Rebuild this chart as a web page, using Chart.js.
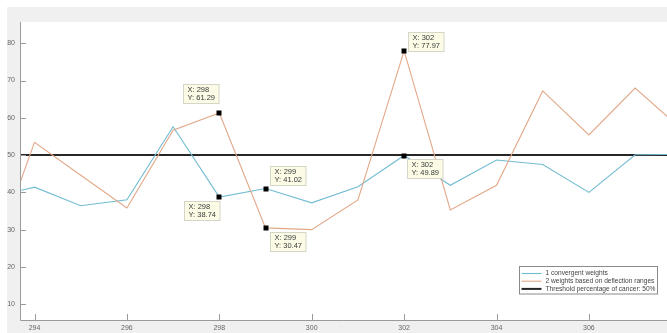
<!DOCTYPE html>
<html>
<head>
<meta charset="utf-8">
<script src="https://cdn.jsdelivr.net/npm/chart.js@4.4.1/dist/chart.umd.min.js"></script>
<style>
  html, body { margin: 0; padding: 0; background: #ffffff; }
  #wrap { width: 667px; height: 333px; position: relative; }
</style>
</head>
<body>
<div id="wrap"><canvas id="chart" width="667" height="333"></canvas></div>
<script>
// Sample index along the x axis
const xValues = [293, 294, 295, 296, 297, 298, 299, 300, 301, 302, 303, 304, 305, 306, 307, 308];

// Cancer percentage computed with convergent weights
const convergentWeights = [38.5, 41.4, 36.4, 38.0, 57.6, 38.74, 41.02, 37.2, 41.5, 49.89, 41.9, 48.7, 47.5, 40.0, 50.1, 50.2];

// Cancer percentage computed with weights based on deflection ranges
const deflectionWeights = [19.0, 53.4, 44.6, 35.8, 56.7, 61.29, 30.47, 30.0, 38.0, 77.97, 35.3, 41.9, 67.2, 55.4, 68.0, 57.0];

// Decision threshold (percent)
const thresholdValue = 50;

const seriesLabels = [
  '1 convergent weights',
  '2 weights based on deflection ranges',
  'Threshold percentage of cancer: 50%'
];

const xTickValues = [294, 296, 298, 300, 302, 304, 306];
const yTickValues = [10, 20, 30, 40, 50, 60, 70, 80];

// Data tips: which series (dataset index) and which x value
const dataTips = [
  { dataset: 1, x: 298 },
  { dataset: 0, x: 298 },
  { dataset: 0, x: 299 },
  { dataset: 1, x: 299 },
  { dataset: 1, x: 302 },
  { dataset: 0, x: 302 }
];
// Where each tip's box sits relative to its marker (dx, dy of box top-left)
const tipPlacement = [
  { dx: -36, dy: -29 },
  { dx: -35, dy: 4 },
  { dx: 4, dy: -23 },
  { dx: 4, dy: 4 },
  { dx: 4, dy: -19 },
  { dx: 3, dy: 3 }
];

const FONT = '"Liberation Sans", Arial, Helvetica, sans-serif';
const BLUE = '#72bcd2';
const ORANGE = '#e2a888';
const AXIS = '#9a9a9a';

const toPoints = (ys) => xValues.map((x, i) => ({ x: x, y: ys[i] }));

// Figure background: white margin, light grey figure, white axes
const backgroundPlugin = {
  id: 'figureBackground',
  beforeDraw(chart) {
    const { ctx, chartArea: a, width, height } = chart;
    ctx.save();
    ctx.fillStyle = '#ffffff';
    ctx.fillRect(0, 0, width, height);
    ctx.fillStyle = '#f0f0f0';
    ctx.fillRect(7, 7, width - 7, height - 7);
    ctx.fillStyle = '#ffffff';
    ctx.fillRect(a.left, a.top, a.right - a.left, a.bottom - a.top);
    ctx.restore();
  }
};

// Inward tick marks and axis lines
const axisPlugin = {
  id: 'inwardTicks',
  afterDraw(chart) {
    const { ctx, chartArea: a, scales } = chart;
    ctx.save();
    ctx.strokeStyle = AXIS;
    ctx.lineWidth = 1;
    ctx.beginPath();
    ctx.moveTo(a.left + 0.5, a.top);
    ctx.lineTo(a.left + 0.5, a.bottom + 0.5);
    ctx.lineTo(a.right, a.bottom + 0.5);
    ctx.stroke();
    ctx.beginPath();
    yTickValues.forEach(v => {
      const y = Math.round(scales.y.getPixelForValue(v)) + 0.5;
      ctx.moveTo(a.left, y);
      ctx.lineTo(a.left + 6, y);
    });
    xTickValues.forEach(v => {
      const x = Math.round(scales.x.getPixelForValue(v)) + 0.5;
      ctx.moveTo(x, a.bottom);
      ctx.lineTo(x, a.bottom - 6);
    });
    ctx.stroke();
    ctx.restore();
  }
};

// Data tip markers and their labels
const dataTipPlugin = {
  id: 'dataTips',
  afterDatasetsDraw(chart) {
    const { ctx, scales } = chart;
    ctx.save();
    dataTips.forEach((tip, i) => {
      const ds = chart.data.datasets[tip.dataset];
      const pt = ds.data.find(p => p.x === tip.x);
      const px = scales.x.getPixelForValue(pt.x);
      const py = scales.y.getPixelForValue(pt.y);
      const place = tipPlacement[i];
      const bx = Math.round(px + place.dx) + 0.5;
      const by = Math.round(py + place.dy) + 0.5;
      const lines = ['X: ' + pt.x, 'Y: ' + pt.y.toFixed(2)];
      ctx.font = '7.5px ' + FONT;
      const w = Math.max(...lines.map(s => ctx.measureText(s).width)) + 8;
      const h = 19;
      ctx.fillStyle = '#fbfbe6';
      ctx.strokeStyle = '#d6d6c8';
      ctx.lineWidth = 1;
      ctx.fillRect(bx, by, w, h);
      ctx.strokeRect(bx, by, w, h);
      ctx.fillStyle = '#3a3a3a';
      ctx.textBaseline = 'middle';
      ctx.textAlign = 'left';
      ctx.fillText(lines[0], bx + 4, by + 5.5);
      ctx.fillText(lines[1], bx + 4, by + 13.5);
      ctx.fillStyle = '#000000';
      ctx.fillRect(Math.round(px) - 2.5, Math.round(py) - 2.5, 5, 5);
    });
    ctx.restore();
  }
};

// Legend box in the lower right of the axes
const legendPlugin = {
  id: 'boxLegend',
  afterDraw(chart) {
    const { ctx } = chart;
    const left = 519.5, top = 266.5, w = 138, h = 27.5;
    ctx.save();
    ctx.fillStyle = '#ffffff';
    ctx.fillRect(left, top, w, h);
    ctx.strokeStyle = '#8a8a8a';
    ctx.lineWidth = 1;
    ctx.strokeRect(left, top, w, h);
    ctx.font = '6.6px ' + FONT;
    ctx.textBaseline = 'middle';
    ctx.textAlign = 'left';
    chart.data.datasets.forEach((ds, i) => {
      const y = top + 7 + i * 7.7;
      ctx.strokeStyle = ds.borderColor;
      ctx.lineWidth = ds.borderWidth;
      ctx.beginPath();
      ctx.moveTo(left + 2, y);
      ctx.lineTo(left + 22, y);
      ctx.stroke();
      ctx.fillStyle = '#444444';
      ctx.fillText(ds.label, left + 26, y);
    });
    ctx.restore();
  }
};

new Chart(document.getElementById('chart'), {
  type: 'line',
  data: {
    datasets: [
      {
        label: seriesLabels[0],
        data: toPoints(convergentWeights),
        borderColor: BLUE,
        borderWidth: 1.1,
        pointRadius: 0,
        tension: 0,
        order: 1
      },
      {
        label: seriesLabels[1],
        data: toPoints(deflectionWeights),
        borderColor: ORANGE,
        borderWidth: 1.1,
        pointRadius: 0,
        tension: 0,
        order: 0
      },
      {
        label: seriesLabels[2],
        data: [
          { x: xValues[0], y: thresholdValue },
          { x: xValues[xValues.length - 1], y: thresholdValue }
        ],
        borderColor: '#262626',
        borderWidth: 2,
        pointRadius: 0,
        order: 2
      }
    ]
  },
  options: {
    responsive: false,
    animation: false,
    devicePixelRatio: 1,
    layout: { padding: { top: 22, left: 0, right: 0, bottom: 0 } },
    plugins: {
      legend: { display: false },
      tooltip: { enabled: false }
    },
    scales: {
      x: {
        type: 'linear',
        min: 293.686,
        max: 307.69,
        afterBuildTicks: (axis) => { axis.ticks = xTickValues.map(v => ({ value: v })); },
        afterFit: (axis) => { axis.height = 13; },
        grid: { display: false, drawTicks: false },
        border: { display: false },
        ticks: {
          padding: 4,
          maxRotation: 0,
          autoSkip: false,
          color: '#666666',
          font: { family: FONT, size: 7 },
          callback: (v) => String(v)
        }
      },
      y: {
        type: 'linear',
        min: 5.77,
        max: 85.7,
        afterBuildTicks: (axis) => { axis.ticks = yTickValues.map(v => ({ value: v })); },
        afterFit: (axis) => { axis.width = 20; },
        grid: { display: false, drawTicks: false },
        border: { display: false },
        ticks: {
          padding: 5,
          autoSkip: false,
          color: '#666666',
          font: { family: FONT, size: 7 },
          callback: (v) => String(v)
        }
      }
    }
  },
  plugins: [backgroundPlugin, axisPlugin, dataTipPlugin, legendPlugin]
});
</script>
</body>
</html>
